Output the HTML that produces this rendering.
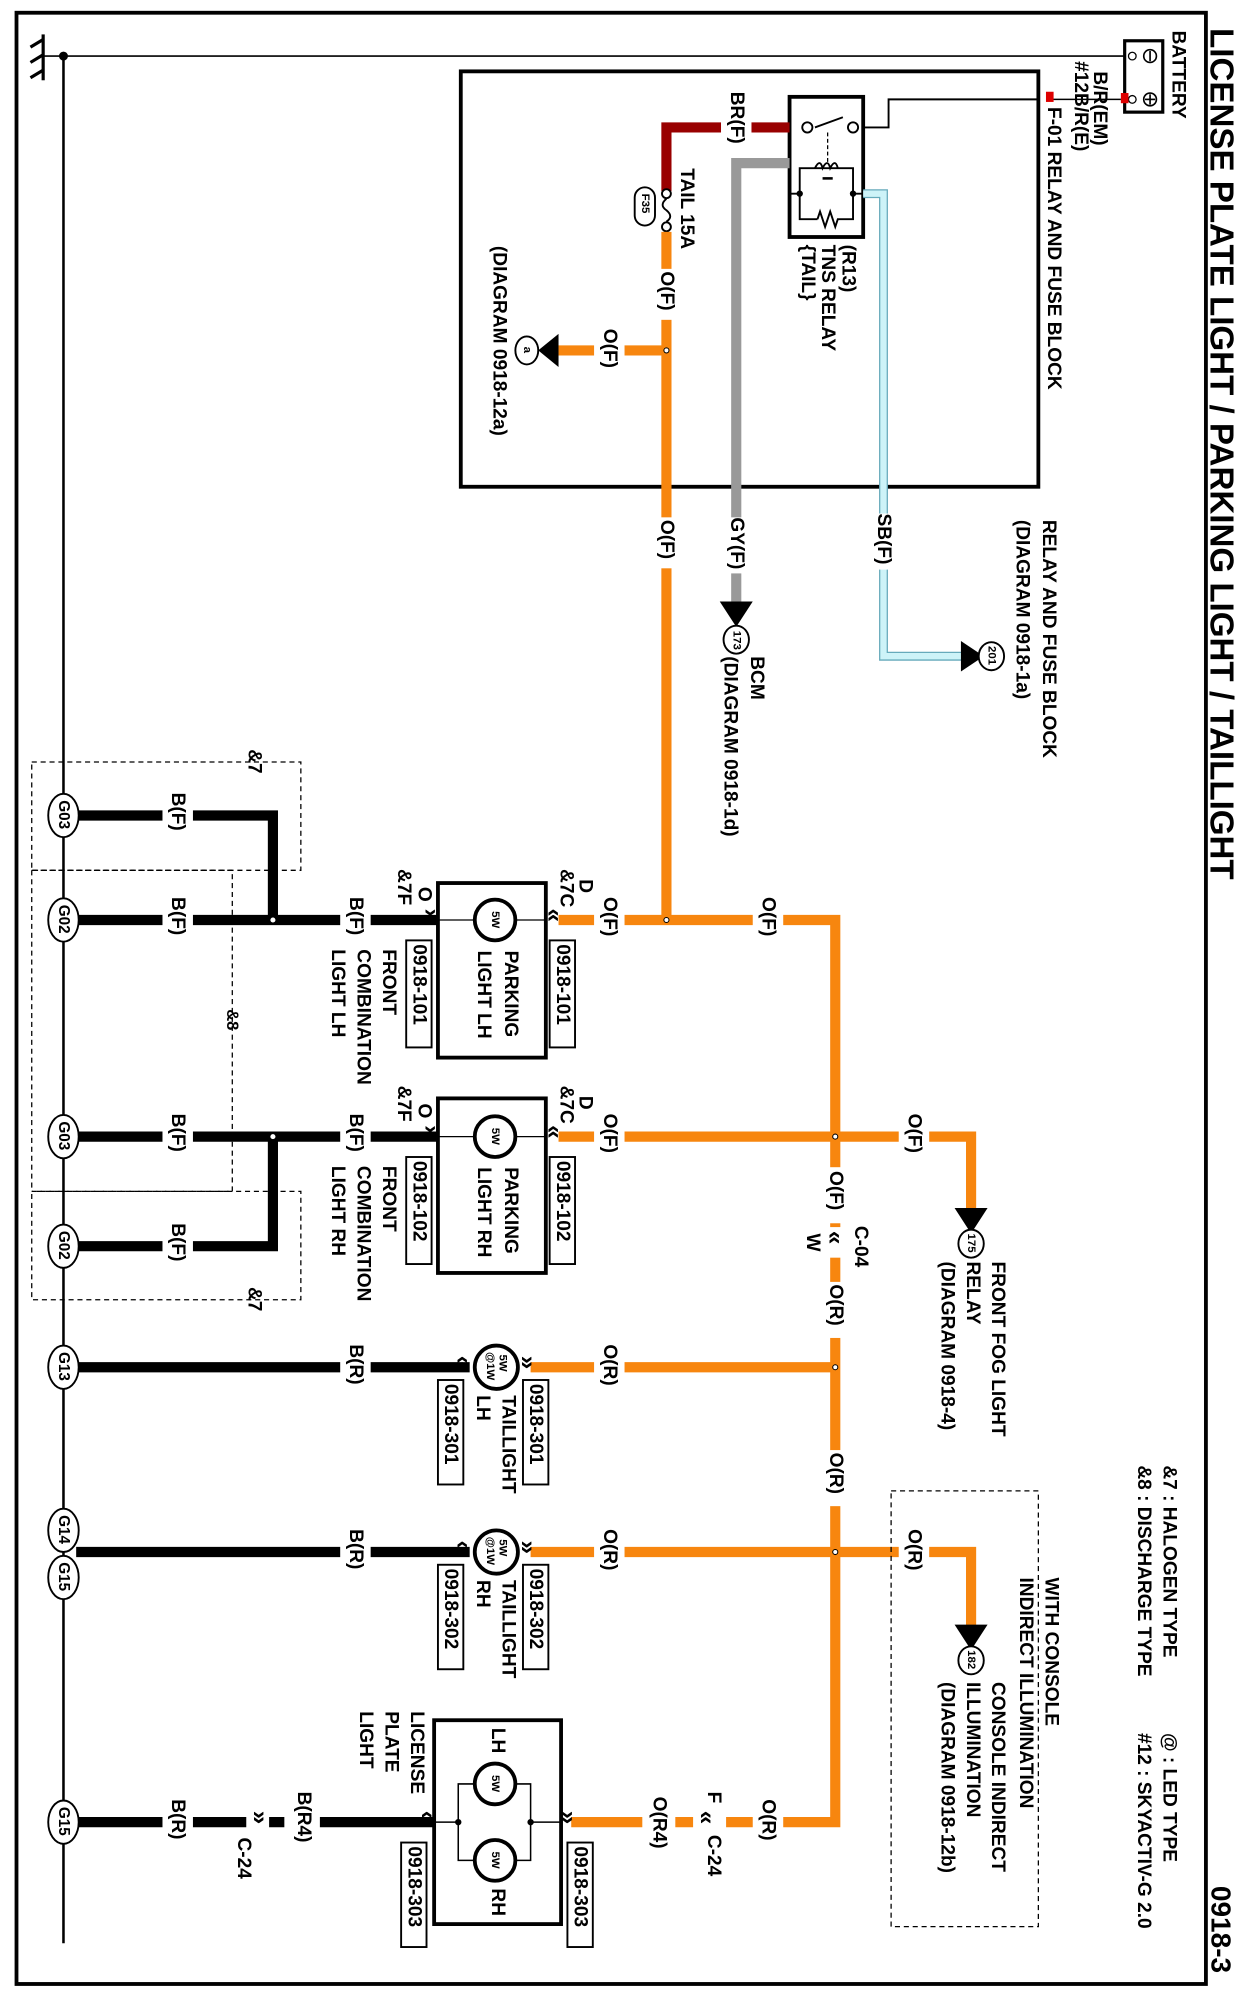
<!DOCTYPE html>
<html><head><meta charset="utf-8"><style>
html,body{margin:0;padding:0;background:#fff;}
svg{display:block;}
text{font-family:"Liberation Sans",sans-serif;font-weight:bold;font-size:15px;fill:#000;dominant-baseline:central;}
.s{font-size:9px;}
.t{font-size:26px;}
.c{font-size:19px;}
</style></head><body>
<svg width="1244" height="1998" viewBox="0 0 980 1568" preserveAspectRatio="none" xmlns="http://www.w3.org/2000/svg">
<rect x="0" y="0" width="980" height="1568" fill="#fff"/>
<rect x="13" y="10" width="937" height="1547" fill="none" stroke="#000" stroke-width="3"/>
<text class="t" transform="translate(962,22) rotate(90)">LICENSE PLATE LIGHT / PARKING LIGHT / TAILLIGHT</text>
<text class="t" transform="translate(962,1480) rotate(90)" style="font-size:22px">0918-3</text>

<line x1="34" y1="27" x2="34" y2="63" stroke="#000" stroke-width="2.5"/>
<line x1="34" y1="31" x2="24" y2="37" stroke="#000" stroke-width="2.5"/>
<line x1="34" y1="43" x2="24" y2="49" stroke="#000" stroke-width="2.5"/>
<line x1="34" y1="55" x2="24" y2="61" stroke="#000" stroke-width="2.5"/>
<line x1="34" y1="44" x2="886" y2="44" stroke="#000" stroke-width="1.2"/>
<circle cx="50" cy="44" r="3.5" fill="#000"/>
<line x1="50" y1="44" x2="50" y2="1525" stroke="#000" stroke-width="2"/>

<rect x="886" y="32" width="30" height="56" fill="#fff" stroke="#000" stroke-width="2.5"/>
<circle cx="906" cy="44" r="5" fill="none" stroke="#000" stroke-width="1.3"/><line x1="906" y1="40" x2="906" y2="48" stroke="#000" stroke-width="1.3"/>
<circle cx="906" cy="78" r="5" fill="none" stroke="#000" stroke-width="1.3"/><line x1="906" y1="74" x2="906" y2="82" stroke="#000" stroke-width="1.3"/><line x1="902" y1="78" x2="910" y2="78" stroke="#000" stroke-width="1.3"/>
<circle cx="892" cy="44" r="3" fill="none" stroke="#000"/><circle cx="892" cy="78" r="3" fill="none" stroke="#000"/>
<text transform="translate(928,24) rotate(90)">BATTERY</text>
<rect x="883" y="73" width="6" height="8" fill="#d00"/>
<line x1="883" y1="78" x2="826" y2="78" stroke="#000" stroke-width="1.2"/>

<rect x="363" y="56" width="455" height="326" fill="none" stroke="#000" stroke-width="3"/>
<text transform="translate(866,56) rotate(90)">B/R(EM)</text>
<text transform="translate(851,48) rotate(90)">#12B/R(E)</text>
<rect x="824" y="72" width="6" height="8" fill="#d00"/>
<text transform="translate(830,84) rotate(90)">F-01 RELAY AND FUSE BLOCK</text>
<polyline points="819,78 700,78 700,100 680,100" fill="none" stroke="#000" stroke-width="1.5"/>
<rect x="622" y="76" width="58" height="110" fill="#fff" stroke="#000" stroke-width="3"/>
<line x1="642" y1="100" x2="664" y2="92" stroke="#000" stroke-width="1.5"/>
<circle cx="636" cy="100" r="4" fill="#fff" stroke="#000" stroke-width="1.5"/>
<circle cx="672" cy="100" r="4" fill="#fff" stroke="#000" stroke-width="1.5"/>
<line x1="652" y1="104" x2="652" y2="128" stroke="#000" stroke-dasharray="3,2"/>
<!-- coil/resistor parallel -->
<polyline points="622,152 630,152 630,132 672,132 672,152 680,152" fill="none" stroke="#000" stroke-width="1.5"/>
<polyline points="630,152 630,172 644,172" fill="none" stroke="#000" stroke-width="1.5"/>
<polyline points="644,172 646,166 650,178 654,166 658,178 660,172 672,172 672,152" fill="none" stroke="#000" stroke-width="1.5"/>
<path d="M642,132 q4,-8 6,0 q4,-8 6,0 q4,-8 6,0" fill="none" stroke="#000" stroke-width="1.5"/>
<line x1="648" y1="140" x2="656" y2="140" stroke="#000" stroke-width="2"/>
<circle cx="630" cy="152" r="2.5" fill="#000"/><circle cx="672" cy="152" r="2.5" fill="#000"/>
<text transform="translate(668,192) rotate(90)">(R13)</text>
<text transform="translate(652,192) rotate(90)">TNS RELAY</text>
<text transform="translate(636,192) rotate(90)">{TAIL}</text>
<polyline points="622,100 525,100 525,150" fill="none" stroke="#900" stroke-width="8"/>
<rect x="568" y="86" width="24" height="30" fill="#fff"/>
<text transform="translate(580,72) rotate(90)">BR(F)</text>
<circle cx="525" cy="152" r="3.5" fill="#fff" stroke="#000" stroke-width="1.5"/>
<circle cx="525" cy="178" r="3.5" fill="#fff" stroke="#000" stroke-width="1.5"/>
<path d="M525,156 q-6,5 0,9 q6,5 0,9" fill="none" stroke="#000" stroke-width="1.5"/>
<text transform="translate(541,132) rotate(90)">TAIL 15A</text>
<rect x="500" y="147" width="16" height="30" rx="8" fill="#fff" stroke="#000" stroke-width="1.5"/>
<text class="s" transform="translate(508,152) rotate(90)">F35</text>
<line x1="525" y1="182" x2="525" y2="722" stroke="#f7860f" stroke-width="8"/>
<rect x="514" y="211" width="22" height="40" fill="#fff"/>
<text transform="translate(525,213) rotate(90)">O(F)</text>
<rect x="514" y="406" width="22" height="40" fill="#fff"/>
<text transform="translate(525,408) rotate(90)">O(F)</text>
<line x1="525" y1="275" x2="440" y2="275" stroke="#f7860f" stroke-width="8"/>
<rect x="468" y="264" width="24" height="22" fill="#fff"/>
<text transform="translate(480,258) rotate(90)">O(F)</text>
<circle cx="525" cy="275" r="2" fill="#fff" stroke="#000" stroke-width="0.8"/>
<polygon points="440,262 440,288 424,275" fill="#000"/>
<ellipse cx="415" cy="275" rx="9" ry="11" fill="#fff" stroke="#000" stroke-width="1.5"/>
<text class="s" transform="translate(415,272) rotate(90)">a</text>
<text transform="translate(393,193) rotate(90)">(DIAGRAM 0918-12a)</text>
<polyline points="622,128 580,128 580,475" fill="none" stroke="#999" stroke-width="8"/>
<rect x="569" y="406" width="22" height="44" fill="#fff"/>
<text transform="translate(580,406) rotate(90)">GY(F)</text>
<polygon points="567,472 593,472 580,492" fill="#000"/>
<ellipse cx="580" cy="502" rx="10" ry="11" fill="#fff" stroke="#000" stroke-width="1.5"/>
<text class="s" transform="translate(580,495) rotate(90)">173</text>
<text transform="translate(596,515) rotate(90)">BCM</text>
<text transform="translate(575,515) rotate(90)">(DIAGRAM 0918-1d)</text>
<polyline points="680,152 696,152 696,515 760,515" fill="none" stroke="#6ab" stroke-width="7"/>
<polyline points="680,152 696,152 696,515 760,515" fill="none" stroke="#cdf3f8" stroke-width="5"/>
<rect x="685" y="403" width="22" height="44" fill="#fff"/>
<text transform="translate(696,403) rotate(90)">SB(F)</text>
<polygon points="757,503 757,527 775,515" fill="#000"/>
<ellipse cx="781" cy="515" rx="10" ry="11" fill="#fff" stroke="#000" stroke-width="1.5"/>
<text class="s" transform="translate(781,507) rotate(90)">201</text>
<text transform="translate(826,408) rotate(90)">RELAY AND FUSE BLOCK</text>
<text transform="translate(805,408) rotate(90)">(DIAGRAM 0918-1a)</text>

<polyline points="440,722 658,722 658,1430 450,1430" fill="none" stroke="#f7860f" stroke-width="8"/>
<line x1="440" y1="892" x2="658" y2="892" stroke="#f7860f" stroke-width="8"/>
<polyline points="658,892 765,892 765,950" fill="none" stroke="#f7860f" stroke-width="8"/>
<line x1="418" y1="1073" x2="658" y2="1073" stroke="#f7860f" stroke-width="8"/>
<polyline points="418,1218 765,1218 765,1278" fill="none" stroke="#f7860f" stroke-width="8"/>
<rect x="468" y="701" width="24" height="42" fill="#fff"/><text transform="translate(480,704) rotate(90)">O(F)</text>
<rect x="593" y="701" width="24" height="42" fill="#fff"/><text transform="translate(605,704) rotate(90)">O(F)</text>
<rect x="468" y="871" width="24" height="42" fill="#fff"/><text transform="translate(480,874) rotate(90)">O(F)</text>
<rect x="708" y="871" width="24" height="42" fill="#fff"/><text transform="translate(720,874) rotate(90)">O(F)</text>
<rect x="468" y="1052" width="24" height="42" fill="#fff"/><text transform="translate(480,1055) rotate(90)">O(R)</text>
<rect x="468" y="1197" width="24" height="42" fill="#fff"/><text transform="translate(480,1200) rotate(90)">O(R)</text>
<rect x="708" y="1197" width="24" height="42" fill="#fff"/><text transform="translate(720,1200) rotate(90)">O(R)</text>
<rect x="647" y="916" width="22" height="44" fill="#fff"/><text transform="translate(658,919) rotate(90)">O(F)</text>
<rect x="647" y="963" width="22" height="24" fill="#fff"/>
<text class="c" transform="translate(658,966) rotate(90)">«</text>
<text transform="translate(678,962) rotate(90)">C-04</text>
<text transform="translate(640,968) rotate(90)">W</text>
<rect x="647" y="1006" width="22" height="44" fill="#fff"/><text transform="translate(658,1008) rotate(90)">O(R)</text>
<rect x="647" y="1138" width="22" height="44" fill="#fff"/><text transform="translate(658,1140) rotate(90)">O(R)</text>
<rect x="593" y="1409" width="24" height="42" fill="#fff"/><text transform="translate(605,1412) rotate(90)">O(R)</text>
<rect x="546" y="1409" width="26" height="42" fill="#fff"/>
<text transform="translate(562,1406) rotate(90)">F</text>
<text class="c" transform="translate(557,1421) rotate(90)">«</text>
<text transform="translate(562,1440) rotate(90)">C-24</text>
<rect x="506" y="1409" width="26" height="46" fill="#fff"/><text transform="translate(519,1410) rotate(90)">O(R4)</text>
<circle cx="525" cy="722" r="2" fill="#fff" stroke="#000" stroke-width="0.8"/>
<circle cx="658" cy="892" r="2" fill="#fff" stroke="#000" stroke-width="0.8"/>
<circle cx="658" cy="1073" r="2" fill="#fff" stroke="#000" stroke-width="0.8"/>
<circle cx="658" cy="1218" r="2" fill="#fff" stroke="#000" stroke-width="0.8"/>
<polygon points="752,948 778,948 765,968" fill="#000"/>
<ellipse cx="765" cy="976" rx="10" ry="11" fill="#fff" stroke="#000" stroke-width="1.5"/>
<text class="s" transform="translate(765,968) rotate(90)">175</text>
<text transform="translate(786,990) rotate(90)">FRONT FOG LIGHT</text>
<text transform="translate(766,990) rotate(90)">RELAY</text>
<text transform="translate(746,990) rotate(90)">(DIAGRAM 0918-4)</text>
<polygon points="752,1275 778,1275 765,1295" fill="#000"/>
<ellipse cx="765" cy="1303" rx="10" ry="11" fill="#fff" stroke="#000" stroke-width="1.5"/>
<text class="s" transform="translate(765,1295) rotate(90)">182</text>
<rect x="702" y="1170" width="116" height="342" fill="none" stroke="#000" stroke-dasharray="4,3"/>
<text transform="translate(828,1238) rotate(90)">WITH CONSOLE</text>
<text transform="translate(808,1238) rotate(90)">INDIRECT ILLUMINATION</text>
<text transform="translate(786,1320) rotate(90)">CONSOLE INDIRECT</text>
<text transform="translate(766,1320) rotate(90)">ILLUMINATION</text>
<text transform="translate(746,1320) rotate(90)">(DIAGRAM 0918-12b)</text>
<text transform="translate(921,1150) rotate(90)">&amp;7 : HALOGEN TYPE</text>
<text transform="translate(901,1150) rotate(90)">&amp;8 : DISCHARGE TYPE</text>
<text transform="translate(921,1360) rotate(90)">@ : LED TYPE</text>
<text transform="translate(901,1360) rotate(90)">#12 : SKYACTIV-G 2.0</text>

<g stroke="#000" stroke-width="8" fill="none">
<polyline points="345,722 60,722"/>
<polyline points="215,722 215,640 60,640"/>
<polyline points="345,892 60,892"/>
<polyline points="215,892 215,978 60,978"/>
<polyline points="370,1073 60,1073"/>
<polyline points="370,1218 60,1218"/>
<polyline points="342,1430 60,1430"/>
</g>
<circle cx="215" cy="722" r="2" fill="#fff"/><circle cx="215" cy="892" r="2" fill="#fff"/>
<g>
<rect x="128" y="619" width="24" height="42" fill="#fff"/><text transform="translate(140,622) rotate(90)">B(F)</text>
<rect x="128" y="701" width="24" height="42" fill="#fff"/><text transform="translate(140,704) rotate(90)">B(F)</text>
<rect x="268" y="701" width="24" height="42" fill="#fff"/><text transform="translate(280,704) rotate(90)">B(F)</text>
<rect x="128" y="871" width="24" height="42" fill="#fff"/><text transform="translate(140,874) rotate(90)">B(F)</text>
<rect x="268" y="871" width="24" height="42" fill="#fff"/><text transform="translate(280,874) rotate(90)">B(F)</text>
<rect x="128" y="957" width="24" height="42" fill="#fff"/><text transform="translate(140,960) rotate(90)">B(F)</text>
<rect x="268" y="1052" width="24" height="42" fill="#fff"/><text transform="translate(280,1055) rotate(90)">B(R)</text>
<rect x="268" y="1197" width="24" height="42" fill="#fff"/><text transform="translate(280,1200) rotate(90)">B(R)</text>
<rect x="128" y="1409" width="24" height="42" fill="#fff"/><text transform="translate(140,1412) rotate(90)">B(R)</text>
<rect x="194" y="1418" width="18" height="24" fill="#fff"/>
<text class="c" transform="translate(205,1421) rotate(90)">»</text>
<text transform="translate(192,1442) rotate(90)">C-24</text>
<rect x="224" y="1409" width="28" height="46" fill="#fff"/><text transform="translate(239,1406) rotate(90)">B(R4)</text>
</g>
<g fill="none" stroke="#000" stroke-dasharray="4,3" stroke-width="1">
<rect x="25" y="598" width="212" height="85"/>
<rect x="25" y="935" width="212" height="85"/>
<polyline points="25,683 183,683 183,935 25,935"/>
<line x1="25" y1="683" x2="25" y2="935"/>
</g>
<text transform="translate(200,588) rotate(90)">&amp;7</text>
<text transform="translate(183,792) rotate(90)" style="font-size:13px">&amp;8</text>
<text transform="translate(200,1010) rotate(90)">&amp;7</text>
<g fill="#fff" stroke="#000" stroke-width="1.5">
<ellipse cx="50" cy="640" rx="12" ry="17"/><ellipse cx="50" cy="722" rx="12" ry="17"/>
<ellipse cx="50" cy="892" rx="12" ry="17"/><ellipse cx="50" cy="978" rx="12" ry="17"/>
<ellipse cx="50" cy="1073" rx="12" ry="17"/><ellipse cx="50" cy="1201" rx="12" ry="17"/>
<ellipse cx="50" cy="1238" rx="12" ry="17"/><ellipse cx="50" cy="1430" rx="12" ry="17"/>
</g>
<text style="font-size:12px" transform="translate(50,628) rotate(90)">G03</text>
<text style="font-size:12px" transform="translate(50,710) rotate(90)">G02</text>
<text style="font-size:12px" transform="translate(50,880) rotate(90)">G03</text>
<text style="font-size:12px" transform="translate(50,966) rotate(90)">G02</text>
<text style="font-size:12px" transform="translate(50,1061) rotate(90)">G13</text>
<text style="font-size:12px" transform="translate(50,1189) rotate(90)">G14</text>
<text style="font-size:12px" transform="translate(50,1226) rotate(90)">G15</text>
<text style="font-size:12px" transform="translate(50,1418) rotate(90)">G15</text>

<rect x="345" y="693" width="85" height="137" fill="#fff" stroke="#000" stroke-width="3"/>
<line x1="345" y1="722" x2="430" y2="722" stroke="#000" stroke-width="1"/>
<circle cx="390" cy="722" r="16" fill="#fff" stroke="#000" stroke-width="3"/>
<text class="s" transform="translate(390,715) rotate(90)">5W</text>
<text transform="translate(402,746) rotate(90)">PARKING</text>
<text transform="translate(381,746) rotate(90)">LIGHT LH</text>
<text class="c" transform="translate(437,713) rotate(90)">«</text>
<text class="c" transform="translate(340,713) rotate(90)">»</text>
<text transform="translate(461,690) rotate(90)">D</text>
<text transform="translate(446,682) rotate(90)">&amp;7C</text>
<text transform="translate(334,696) rotate(90)">O</text>
<text transform="translate(318,682) rotate(90)">&amp;7F</text>
<rect x="433" y="738" width="20" height="84" fill="#fff" stroke="#000" stroke-width="1.5"/>
<text transform="translate(443,741) rotate(90)">0918-101</text>
<rect x="320" y="738" width="20" height="84" fill="#fff" stroke="#000" stroke-width="1.5"/>
<text transform="translate(330,741) rotate(90)">0918-101</text>
<text transform="translate(306,745) rotate(90)">FRONT</text>
<text transform="translate(286,745) rotate(90)">COMBINATION</text>
<text transform="translate(266,745) rotate(90)">LIGHT LH</text>
<rect x="345" y="862" width="85" height="137" fill="#fff" stroke="#000" stroke-width="3"/>
<line x1="345" y1="892" x2="430" y2="892" stroke="#000" stroke-width="1"/>
<circle cx="390" cy="892" r="16" fill="#fff" stroke="#000" stroke-width="3"/>
<text class="s" transform="translate(390,885) rotate(90)">5W</text>
<text transform="translate(402,916) rotate(90)">PARKING</text>
<text transform="translate(381,916) rotate(90)">LIGHT RH</text>
<text class="c" transform="translate(437,883) rotate(90)">«</text>
<text class="c" transform="translate(340,883) rotate(90)">»</text>
<text transform="translate(461,860) rotate(90)">D</text>
<text transform="translate(446,852) rotate(90)">&amp;7C</text>
<text transform="translate(334,866) rotate(90)">O</text>
<text transform="translate(318,852) rotate(90)">&amp;7F</text>
<rect x="433" y="908" width="20" height="84" fill="#fff" stroke="#000" stroke-width="1.5"/>
<text transform="translate(443,911) rotate(90)">0918-102</text>
<rect x="320" y="908" width="20" height="84" fill="#fff" stroke="#000" stroke-width="1.5"/>
<text transform="translate(330,911) rotate(90)">0918-102</text>
<text transform="translate(306,915) rotate(90)">FRONT</text>
<text transform="translate(286,915) rotate(90)">COMBINATION</text>
<text transform="translate(266,915) rotate(90)">LIGHT RH</text>
<circle cx="391" cy="1073" r="17" fill="#fff" stroke="#000" stroke-width="3"/>
<text class="s" transform="translate(396,1063) rotate(90)">5W</text>
<text class="s" transform="translate(386,1061) rotate(90)">@1W</text>
<text class="c" transform="translate(416,1064) rotate(90)">»</text>
<text class="c" transform="translate(365,1064) rotate(90)">«</text>
<rect x="412" y="1083" width="20" height="82" fill="#fff" stroke="#000" stroke-width="1.5"/>
<text transform="translate(422,1086) rotate(90)">0918-301</text>
<rect x="345" y="1083" width="20" height="82" fill="#fff" stroke="#000" stroke-width="1.5"/>
<text transform="translate(355,1086) rotate(90)">0918-301</text>
<text transform="translate(400,1095) rotate(90)">TAILLIGHT</text>
<text transform="translate(380,1095) rotate(90)">LH</text>
<circle cx="391" cy="1218" r="17" fill="#fff" stroke="#000" stroke-width="3"/>
<text class="s" transform="translate(396,1208) rotate(90)">5W</text>
<text class="s" transform="translate(386,1206) rotate(90)">@1W</text>
<text class="c" transform="translate(416,1209) rotate(90)">»</text>
<text class="c" transform="translate(365,1209) rotate(90)">«</text>
<rect x="412" y="1228" width="20" height="82" fill="#fff" stroke="#000" stroke-width="1.5"/>
<text transform="translate(422,1231) rotate(90)">0918-302</text>
<rect x="345" y="1228" width="20" height="82" fill="#fff" stroke="#000" stroke-width="1.5"/>
<text transform="translate(355,1231) rotate(90)">0918-302</text>
<text transform="translate(400,1240) rotate(90)">TAILLIGHT</text>
<text transform="translate(380,1240) rotate(90)">RH</text>
<rect x="342" y="1350" width="100" height="160" fill="#fff" stroke="#000" stroke-width="3"/>
<polyline points="342,1430 361,1430 361,1400 418,1400 418,1430 442,1430" fill="none" stroke="#000" stroke-width="1.2"/>
<polyline points="361,1430 361,1460 418,1460 418,1430" fill="none" stroke="#000" stroke-width="1.2"/>
<circle cx="361" cy="1430" r="2.5" fill="#000"/><circle cx="418" cy="1430" r="2.5" fill="#000"/>
<circle cx="390" cy="1400" r="16" fill="#fff" stroke="#000" stroke-width="3"/>
<circle cx="390" cy="1460" r="16" fill="#fff" stroke="#000" stroke-width="3"/>
<text class="s" transform="translate(390,1393) rotate(90)">5W</text>
<text class="s" transform="translate(390,1453) rotate(90)">5W</text>
<text transform="translate(392,1356) rotate(90)">LH</text>
<text transform="translate(392,1482) rotate(90)">RH</text>
<text class="c" transform="translate(448,1421) rotate(90)">»</text>
<text class="c" transform="translate(337,1421) rotate(90)">«</text>
<rect x="447" y="1446" width="20" height="82" fill="#fff" stroke="#000" stroke-width="1.5"/>
<text transform="translate(457,1449) rotate(90)">0918-303</text>
<rect x="316" y="1446" width="20" height="82" fill="#fff" stroke="#000" stroke-width="1.5"/>
<text transform="translate(326,1449) rotate(90)">0918-303</text>
<text transform="translate(328,1343) rotate(90)">LICENSE</text>
<text transform="translate(308,1343) rotate(90)">PLATE</text>
<text transform="translate(288,1343) rotate(90)">LIGHT</text>
</svg>
</body></html>
